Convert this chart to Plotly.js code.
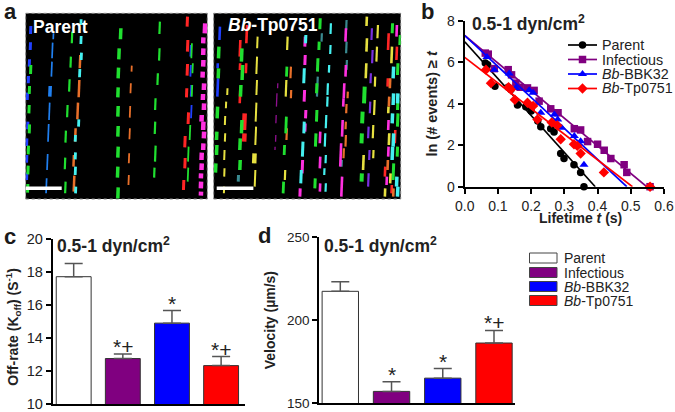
<!DOCTYPE html>
<html><head><meta charset="utf-8">
<script src="https://cdn.plot.ly/plotly-3.0.1.min.js"></script>
<style>html,body{margin:0;padding:0;background:#fff}#c{width:675px;height:412px}</style>
</head><body><div id="c"></div>
<script>
// ---- panel b data: survival plot
const parentT=[.062,.069,.091,.131,.139,.159,.184,.2,.22,.229,.259,.269,.289,.299,.329,.349,.359];
const parentL=[5.97,5.89,4.85,4.8,4.69,3.94,3.86,3.65,3.17,2.9,2.8,2.64,1.6,1.36,1.06,.69,0];
const infectT=[.062,.071,.089,.131,.141,.154,.167,.189,.209,.224,.259,.281,.33,.349,.37,.4,.42,.44,.48,.488,.558];
const infectL=[6.45,6.4,5.7,5.65,5.4,5.0,4.8,4.77,4.65,4.13,3.76,3.57,2.8,2.74,2.18,2.05,1.76,1.36,1.06,.69,0];
const bbk32T=[.067,.089,.134,.154,.194,.206,.229,.27,.28,.292,.33,.349,.359];
const bbk32L=[6.26,5.65,5.46,4.77,4.66,4.53,3.57,3.49,3.25,2.85,2.45,2.2,1.06];
const tp0751T=[.064,.079,.132,.139,.151,.189,.206,.219,.262,.279,.289,.329,.339,.349,.419,.558];
const tp0751L=[5.65,5.0,4.8,4.69,4.2,4.05,3.9,3.25,3.1,2.96,2.29,2.05,1.97,1.6,.69,0];
const parentFitT=[0,.393], parentFitL=[7.0,0];
const infectFitT=[0,.548], infectFitL=[7.3,0];
const bbk32FitT=[0,.488], bbk32FitL=[7.3,0];
const tp0751FitT=[0,.505], tp0751FitL=[6.24,0];
// ---- panels c, d data
const groups=["Parent","Infectious","<i>Bb</i>-BBK32","<i>Bb</i>-Tp0751"];
const groupColors=["#ffffff","#800080","#0000ff","#ff0000"];
const offRate=[17.73,12.76,14.91,12.33];
const offRateErr=[.8,.28,.76,.55];
const offRateMarks=["","*+","*","*+"];
const velocity=[217.4,157,165,186.2];
const velocityErr=[5.8,5.8,5.8,7.6];
const velocityMarks=["","*","*","*+"];
const shear="<b>0.5-1 dyn/cm<sup>2</sup></b>";
// ---- panel a data: streaks [x, yStart, yEnd]
const GREEN="#20e030",RED="#ff2525",ORANGE="#e8702a",CYAN="#45f0f0",MAG="#ff30e0",YEL="#e6e040",BLUE="#2040ff",SKY="#2080f0",PUR="#7a30e0",TEAL="#3a8a90",DMAG="#901090";
const leftTracks=[
 [BLUE,3,[[92,78,102],[91,127,150],[88,178,200],[85,228,250],[82,278,300],[83,365,388],[80,415,438],[80,465,488],[80,518,540]]],
 [GREEN,3,[[92,195,222],[88,258,282],[87,315,340],[88,373,400],[85,437,463],[84,497,523],[83,552,578]]],
 [SKY,1.7,[[160,100,118],[157,128,175],[155,185,230],[148,308,360],[145,372,425],[142,462,510],[139,535,580]]],
 [SKY,3.5,[[150,258,290]]],
 [GREEN,2.2,[[216,95,130],[212,170,203],[208,238,275],[202,315,352],[197,392,428],[195,473,508],[196,545,580]]],
 [ORANGE,2.5,[[240,165,205],[237,240,292],[233,308,358],[226,385,425],[221,465,500],[222,527,575]]],
 [CYAN,2.8,[[243,58,75],[243,108,132],[244,158,180],[239,207,232],[236,358,380],[226,405,425],[226,457,478],[226,500,525],[227,560,580]]],
 [GREEN,3.5,[[362,85,118],[357,145,178],[355,203,235],[354,262,292],[354,318,350],[354,378,410],[354,440,473],[353,500,533],[354,562,595]]],
 [ORANGE,1.8,[[395,197,215],[392,250,280],[390,318,353],[389,385,418],[387,460,490],[386,525,555]]],
 [GREEN,2.2,[[479,65,102],[478,145,182],[473,220,255],[466,295,330],[465,365,402],[466,437,485],[463,503,533]]],
 [RED,3,[[562,50,80],[563,120,155],[562,192,227],[560,265,292],[565,337,372],[555,408,442],[555,474,505],[551,540,570]]],
 [BLUE,1.8,[[572,135,170],[572,195,230],[573,255,290],[574,315,355]]],
 [GREEN,1.8,[[575,130,175],[578,190,220],[576,255,290],[570,375,420],[565,440,485],[564,503,545]]],
 [MAG,4.5,[[615,70,100],[610,112,130],[610,145,165],[610,180,200],[608,215,233],[612,250,270],[609,282,300],[612,310,330],[605,345,365],[610,365,390],[612,395,415],[610,430,450],[605,458,480],[605,490,510],[603,520,535],[603,545,565],[603,575,587]]]
];
const rightTracks=[
 [BLUE,2.6,[[44,80,120],[38,190,205],[38,235,290]]],
 [GREEN,3.5,[[41,140,175],[40,205,235],[37,320,355],[35,395,420],[35,435,465],[32,490,518]]],
 [YEL,2,[[67,265,285],[63,305,325],[60,348,375],[60,400,425],[58,450,480],[58,505,530],[57,560,580]]],
 [RED,2.6,[[125,75,130],[105,120,170],[123,190,220],[105,190,210],[105,260,310]]],
 [RED,4.5,[[118,340,390],[118,400,425]]],
 [GREEN,3.5,[[110,145,185],[112,195,240],[107,255,290],[110,360,400],[105,415,450],[105,480,510]]],
 [TEAL,3,[[100,525,545]]],
 [YEL,2,[[157,110,145],[155,170,222],[155,240,285],[153,308,365],[152,380,435],[150,510,560]]],
 [YEL,4.5,[[148,460,490]]],
 [DMAG,1.3,[[218,250,265],[215,280,320],[213,345,370],[212,405,425],[210,440,450]]],
 [ORANGE,2.2,[[257,200,235],[258,270,295],[245,385,420]]],
 [GREEN,2.8,[[245,200,230],[243,350,400],[238,435,465],[235,545,580]]],
 [YEL,2.2,[[247,110,150],[243,240,290],[240,510,540]]],
 [MAG,3,[[300,110,140],[300,165,195],[298,270,305],[302,330,355],[300,370,395],[292,480,520],[285,565,590]]],
 [CYAN,3,[[302,105,130],[297,205,250],[297,365,400],[293,425,470],[288,510,550]]],
 [TEAL,2.2,[[350,100,125],[337,230,290]]],
 [GREEN,3,[[345,55,88],[342,125,150],[338,175,215],[335,250,280],[335,330,365],[332,400,440],[330,535,565]]],
 [MAG,2.6,[[345,395,430],[345,470,505],[345,550,575]]],
 [CYAN,2.2,[[377,70,102],[376,135,162],[372,195,218],[368,250,285],[367,290,320],[363,345,385],[360,400,440],[362,465,490],[358,505,525],[362,550,575]]],
 [TEAL,2.2,[[424,60,90],[424,125,160],[425,180,210],[410,480,500]]],
 [MAG,2.6,[[422,85,125],[422,195,230],[417,250,295],[415,295,320],[412,360,410],[407,430,500],[410,530,590]]],
 [ORANGE,2.2,[[428,275,295],[424,312,340],[422,365,388],[422,405,440],[416,445,475]]],
 [YEL,2.6,[[485,50,78],[485,115,155],[483,190,235],[475,465,510]]],
 [GREEN,4,[[478,260,310],[472,335,370],[470,400,430],[470,520,545]]],
 [PUR,2.2,[[500,85,120],[502,150,190],[497,220,250],[495,305,340],[490,380,415],[493,450,480],[490,520,560]]],
 [YEL,2.2,[[518,75,115],[515,140,185],[510,230,260],[508,300,345],[504,375,415],[505,450,475]]],
 [RED,2.6,[[550,100,150],[575,140,180],[548,235,260],[570,390,430],[540,500,530],[560,555,580]]],
 [GREEN,3,[[562,70,100],[585,105,135],[578,190,225],[578,300,330],[578,340,380],[577,440,470],[565,490,540]]],
 [MAG,2.6,[[575,75,110],[550,360,390],[550,440,470],[545,530,555]]],
 [YEL,2.6,[[560,140,190],[550,320,340],[552,400,435],[556,520,550],[540,565,590]]],
 [CYAN,3.5,[[565,200,235],[578,280,310],[565,280,315],[562,340,370],[565,400,440],[562,440,480],[575,530,560],[578,560,590]]],
 [ORANGE,2.6,[[555,235,265],[552,290,320],[548,480,510],[565,565,590]]]
];
const leftBar=[77,185], rightBar=[35,145], barY=[565,565];
const streakLean=0.04;

const W=675,H=412,FONT="Liberation Sans, Arial, sans-serif";
const dx=(a,b)=>[a/W,b/W], dy=(top,bot)=>[1-bot/H,1-top/H];
const traces=[];
function addTracks(list,xa,ya){
  list.forEach(([color,width,dashes])=>{
    const x=[],y=[];
    dashes.forEach(d=>{const h=(d[2]-d[1])*streakLean/2;x.push(d[0]+h,d[0]-h,null);y.push(d[1],d[2],null);});
    traces.push({type:"scatter",mode:"lines",x,y,xaxis:xa,yaxis:ya,line:{color,width},hoverinfo:"skip",showlegend:false});
  });
}
addTracks(leftTracks,"x","y");
addTracks(rightTracks,"x2","y2");
traces.push({type:"scatter",mode:"lines",x:leftBar,y:barY,xaxis:"x",yaxis:"y",line:{color:"#fff",width:3.5},showlegend:false});
traces.push({type:"scatter",mode:"lines",x:rightBar,y:barY,xaxis:"x2",yaxis:"y2",line:{color:"#fff",width:3.5},showlegend:false});

const series=[
 ["Parent",parentT,parentL,parentFitT,parentFitL,"#000000","circle",7.5],
 ["Infectious",infectT,infectL,infectFitT,infectFitL,"#800080","square",7.5],
 ["Bb-BBK32",bbk32T,bbk32L,bbk32FitT,bbk32FitL,"#0000ff","triangle-up",8],
 ["Bb-Tp0751",tp0751T,tp0751L,tp0751FitT,tp0751FitL,"#ff0000","diamond",8]
];
series.forEach(([name,t,l,ft,fl,color,symbol,size])=>{
  traces.push({type:"scatter",mode:"lines",x:ft,y:fl,xaxis:"x3",yaxis:"y3",line:{color,width:1.7},showlegend:false,cliponaxis:false,name});
  traces.push({type:"scatter",mode:"markers",x:t,y:l,xaxis:"x3",yaxis:"y3",marker:{color,symbol,size},showlegend:false,cliponaxis:false,name});
});
// legend keys (panel b) on a page-sized helper axis
const keyX=[568,582.5,597],keyY=[45,59.5,74,88.5];
series.forEach(([name,,,,,color,symbol,size],i)=>{
  traces.push({type:"scatter",mode:"lines",x:[keyX[0],keyX[2]],y:[keyY[i],keyY[i]],xaxis:"x6",yaxis:"y6",line:{color,width:1.7},showlegend:false,name});
  traces.push({type:"scatter",mode:"markers",x:[keyX[1]],y:[keyY[i]],xaxis:"x6",yaxis:"y6",marker:{color,symbol,size},showlegend:false,name});
});
const bar=(y,err,xa,ya)=>({type:"bar",x:groups,y,xaxis:xa,yaxis:ya,width:.71,
  marker:{color:groupColors,line:{color:"#333",width:1}},
  error_y:{type:"data",array:err,symmetric:false,arrayminus:[0,0,0,0],color:"#555",thickness:1.5,width:9},showlegend:false});
traces.push(bar(offRate,offRateErr,"x4","y4"));
traces.push(bar(velocity,velocityErr,"x5","y5"));

const hidden={visible:false,showgrid:false,zeroline:false,fixedrange:true};
const axLine={showline:true,linecolor:"#000",linewidth:2,ticks:"outside",ticklen:5,tickwidth:2,tickcolor:"#000",showgrid:false,zeroline:false,fixedrange:true,color:"#222",ticklabeloverflow:"allow"};
const catAxis=(d,r,anchor)=>({domain:d,range:r,anchor,type:"category",categoryorder:"array",categoryarray:groups,showline:true,linecolor:"#000",linewidth:2,ticks:"",showticklabels:false,showgrid:false,zeroline:false,fixedrange:true});
const layout={
 width:W,height:H,margin:{l:0,r:0,t:0,b:0},paper_bgcolor:"#fff",plot_bgcolor:"rgba(0,0,0,0)",showlegend:false,
 font:{family:FONT,color:"#222",size:14},
 xaxis:{...hidden,domain:dx(25.7,207.3),range:[77,622],anchor:"y"},
 yaxis:{...hidden,domain:dy(13.3,199),range:[597,40],anchor:"x"},
 xaxis2:{...hidden,domain:dx(213.7,400.7),range:[26,587],anchor:"y2"},
 yaxis2:{...hidden,domain:dy(13.3,199),range:[597,40],anchor:"x2"},
 xaxis3:{...axLine,anchor:"y3",domain:dx(464.7,664),range:[0,.6],tickvals:[0,.1,.2,.3,.4,.5,.6],ticktext:["0.0","0.1","0.2","0.3","0.4","0.5","0.6"],tickfont:{size:14}},
 yaxis3:{...axLine,anchor:"x3",domain:dy(21,186.7),range:[0,8],tickvals:[0,2,4,6,8],tickfont:{size:14},
   title:{text:"<b>ln (# events) ≥ <i>t</i></b>",font:{size:14.5},standoff:6}},
 xaxis4:catAxis(dx(52.7,245),[-.427,3.486],"y4"),
 yaxis4:{...axLine,anchor:"x4",domain:dy(239.3,404),range:[10,20],tickvals:[10,12,14,16,18,20],tickfont:{size:14.5}},
 xaxis5:catAxis(dx(319.3,515),[-.41,3.41],"y5"),
 yaxis5:{...axLine,anchor:"x5",domain:dy(237.3,403),range:[150,250],tickvals:[150,200,250],tickfont:{size:13.5},
   title:{text:"<b>Velocity (µm/s)</b>",font:{size:14},standoff:8}},
 xaxis6:{...hidden,domain:[0,1],range:[0,W],anchor:"y6"},
 yaxis6:{...hidden,domain:[0,1],range:[H,0],anchor:"x6"},
 shapes:[
  {type:"rect",xref:"x domain",yref:"y domain",x0:0,x1:1,y0:0,y1:1,fillcolor:"#000",layer:"below",line:{color:"#888",width:1,dash:"dot"}},
  {type:"rect",xref:"x2 domain",yref:"y2 domain",x0:0,x1:1,y0:0,y1:1,fillcolor:"#000",layer:"below",line:{color:"#888",width:1,dash:"dot"}}
 ],
 annotations:[]
};
const note=(text,x,y,size,extra={})=>layout.annotations.push({text,x:x/W,y:1-y/H,xref:"paper",yref:"paper",xanchor:"left",yanchor:"middle",showarrow:false,font:{size,color:"#222"},...extra});
note("<b>a</b>",2,12,22,{font:{size:22,color:"#1a1a1a"}});
note("<b>b</b>",419,12,22,{font:{size:22,color:"#1a1a1a"}});
note("<b>c</b>",2,236,22,{font:{size:22,color:"#1a1a1a"}});
note("<b>d</b>",256,235,22,{font:{size:22,color:"#1a1a1a"}});
note("<b>Parent</b>",31,26.5,17.5,{font:{size:17.5,color:"#fff"}});
note("<b><i>Bb</i>-Tp0751</b>",225.5,25,17.5,{font:{size:17.5,color:"#fff"}});
note(shear,469.5,23,17.5);note(shear,54.5,245,17.5);note(shear,322,245,17.5);
note("<b>Lifetime <i>t</i> (s)</b>",580,218,14,{xanchor:"center"});
note("<b>Off-rate (K<sub>off</sub>) (S<sup>-1</sup>)</b>",13,326.7,14,{xanchor:"center",textangle:-90});
series.forEach((s,i)=>note(groups[i],599.5,keyY[i],14.3));
const boxY=[258,272.5,286.5,300.5];
groups.forEach((g,i)=>{
  note(g,562,boxY[i],14);
  layout.shapes.push({type:"rect",xref:"paper",yref:"paper",x0:529.5/W,x1:557/W,y0:1-(boxY[i]-5)/H,y1:1-(boxY[i]+5)/H,fillcolor:groupColors[i],line:{color:"#444",width:1}});
});
const marks=(arr,vals,err,xa,ya,dyPx)=>arr.forEach((m,i)=>{ if(m) layout.annotations.push({text:m,x:groups[i],y:vals[i]+err[i],xref:xa,yref:ya,showarrow:false,yanchor:"bottom",yshift:dyPx,font:{size:21,color:"#222"}}); });
marks(offRateMarks,offRate,offRateErr,"x4","y4",-6);
marks(velocityMarks,velocity,velocityErr,"x5","y5",-6);
Plotly.newPlot("c",traces,layout,{displayModeBar:false,staticPlot:true});
</script></body></html>
